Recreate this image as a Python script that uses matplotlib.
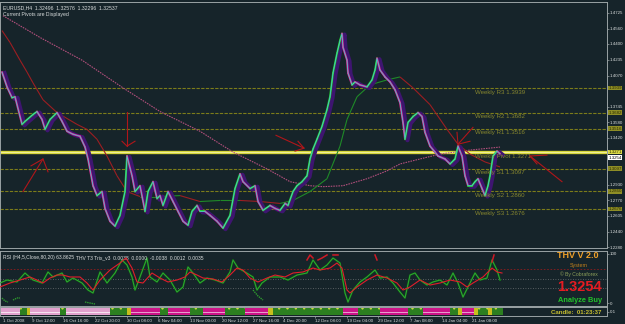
import matplotlib
matplotlib.use('Agg')
import matplotlib.pyplot as plt
import matplotlib.transforms as mtransforms
from matplotlib.collections import LineCollection
from matplotlib.patches import Rectangle
import numpy as np

plt.rcParams['font.family'] = ['Liberation Sans', 'DejaVu Sans']
plt.rcParams['hatch.linewidth'] = 0.5

# ---------------- data ----------------
price_x = [2, 7, 12, 15, 22, 25, 33, 37, 42, 45, 50, 57, 62, 67, 73, 80, 85, 88, 93, 97,
           102, 105, 110, 115, 120, 125, 127, 132, 135, 140, 145, 148, 153, 157, 160, 163,
           168, 173, 178, 183, 188, 192, 197, 200, 205, 210, 217, 223, 230, 235, 240, 243,
           250, 255, 258, 263, 270, 275, 280, 285, 288, 293, 297, 302, 307, 310, 313, 317,
           322, 327, 330, 333, 337, 340, 342, 343, 347, 348, 352, 355, 360, 367, 372, 375,
           377, 380, 385, 390, 395, 400, 403, 405, 408, 413, 418, 422, 425, 430, 435, 438,
           445, 450, 455, 458, 462, 465, 468, 472, 475, 478, 482, 485, 488, 490, 493, 497, 500]
price = [1.4106, 1.3951, 1.3838, 1.3848, 1.3560, 1.3591, 1.3663, 1.3694, 1.3611, 1.3508,
         1.3611, 1.3683, 1.3591, 1.3488, 1.3457, 1.3436, 1.3323, 1.3199, 1.2920, 1.2817,
         1.2859, 1.2683, 1.2549, 1.2498, 1.2611, 1.2859, 1.3230, 1.3024, 1.2859, 1.2920,
         1.2652, 1.2859, 1.2962, 1.2786, 1.2817, 1.2714, 1.2859, 1.2755, 1.2652, 1.2549,
         1.2508, 1.2652, 1.2714, 1.2652, 1.2652, 1.2611, 1.2549, 1.2477, 1.2611, 1.2890,
         1.3044, 1.2962, 1.2890, 1.2920, 1.2755, 1.2663, 1.2714, 1.2683, 1.2663, 1.2735,
         1.2714, 1.2859, 1.2920, 1.2962, 1.3024, 1.3199, 1.3302, 1.3405, 1.3539, 1.3714,
         1.3848, 1.4096, 1.4302, 1.4436, 1.4508, 1.4364, 1.4230, 1.4096, 1.3972, 1.4003,
         1.3972, 1.3951, 1.4024, 1.4127, 1.4250, 1.4127, 1.4055, 1.4003, 1.3921, 1.3787,
         1.3580, 1.3405, 1.3580, 1.3642, 1.3683, 1.3642, 1.3477, 1.3333, 1.3271, 1.3230,
         1.3199, 1.3147, 1.3199, 1.3333, 1.3230, 1.3024, 1.2920, 1.2920, 1.2962, 1.2993,
         1.2890, 1.2817, 1.2920, 1.3024, 1.3230, 1.3281, 1.3254]

ma_x = [2, 10, 20, 27, 33, 43, 57, 77, 87, 97, 107, 117, 127, 140, 160, 180, 200, 220,
        240, 260, 280, 293, 310, 327, 340, 347, 357, 370, 387, 400, 413, 430, 447, 458,
        470, 485, 500]
ma = [1.4539, 1.4415, 1.4230, 1.4106, 1.3993, 1.3817, 1.3683, 1.3560, 1.3508, 1.3405,
      1.3230, 1.3024, 1.2859, 1.2807, 1.2807, 1.2817, 1.2755, 1.2766, 1.2766, 1.2755,
      1.2735, 1.2766, 1.2859, 1.2993, 1.3333, 1.3611, 1.3848, 1.3972, 1.4024, 1.4055,
      1.3941, 1.3766, 1.3508, 1.3353, 1.3250, 1.3168, 1.3116]

ma200_x = [3, 40, 82, 123, 160, 200, 233, 267, 290, 310, 323, 343, 367, 387, 400, 420,
           440, 470, 500]
ma200 = [1.4694, 1.4467, 1.4230, 1.3941, 1.3694, 1.3488, 1.3271, 1.3096, 1.2962, 1.2920,
         1.2910, 1.2920, 1.2993, 1.3075, 1.3147, 1.3199, 1.3250, 1.3292, 1.3323]

pivot_names = ['Weekly R3', 'Weekly R2', 'Weekly R1', 'Weekly Pivot', 'Weekly S1',
               'Weekly S2', 'Weekly S3']
pivot_vals = [1.3939, 1.3682, 1.3516, 1.3271, 1.3097, 1.2860, 1.2676]

price_ticks = [1.4725, 1.4560, 1.4400, 1.4235, 1.4070, 1.3745, 1.3580, 1.3420,
               1.2930, 1.2770, 1.2605, 1.2440, 1.2280]
last_price = 1.3254

time_labels = ['1 Oct 2008', '9 Oct 12:00', '16 Oct 16:00', '22 Oct 20:00', '30 Oct 08:00',
               '6 Nov 04:00', '13 Nov 00:00', '20 Nov 12:00', '27 Nov 16:00', '4 Dec 20:00',
               '12 Dec 08:00', '19 Dec 04:00', '29 Dec 12:00', '7 Jan 08:00', '14 Jan 04:00',
               '21 Jan 08:00']
time_pos = [3, 32, 63, 95, 127, 158, 190, 222, 253, 283, 315, 347, 378, 410, 442, 472]

# hand-drawn arrows
arrow_tail_x = [23, 127, 276, 473, 562]
arrow_tail_p = [1.2859, 1.3694, 1.3446, 1.3529, 1.2962]
arrow_tip_x = [43, 127, 304, 458, 530]
arrow_tip_p = [1.3199, 1.3333, 1.3312, 1.3353, 1.3230]
arrow_h1_x = [31, 122, 298, 457, 547]
arrow_h1_p = [1.3127, 1.3384, 1.3384, 1.3477, 1.3240]
arrow_h2_x = [48, 135, 295, 470, 537]
arrow_h2_p = [1.3065, 1.3384, 1.3281, 1.3384, 1.3147]

rsi_fast_x = [0, 7, 17, 25, 33, 42, 48, 53, 62, 67, 73, 82, 88, 93, 100, 107, 115, 122, 127,
              132, 135, 140, 147, 150, 157, 163, 170, 177, 183, 188, 193, 200, 207, 215, 223,
              230, 233, 238, 245, 253, 257, 262, 270, 280, 288, 297, 307, 313, 320, 327, 333,
              340, 345, 348, 353, 360, 367, 375, 380, 387, 393, 400, 405, 410, 415, 420, 427,
              433, 440, 447, 453, 458, 463, 470, 475, 480, 487, 492, 497, 500]
rsi_fast = [40.8, 46.9, 42.9, 61.2, 46.9, 40.8, 63.3, 53.1, 61.2, 42.9, 51.0, 40.8, 26.5,
            20.4, 63.3, 40.8, 61.2, 87.8, 77.6, 53.1, 26.5, 53.1, 91.8, 53.1, 42.9, 61.2,
            46.9, 22.4, 32.7, 73.5, 61.2, 40.8, 51.0, 46.9, 40.8, 63.3, 87.8, 71.4, 63.3,
            53.1, 26.5, 40.8, 53.1, 53.1, 46.9, 57.1, 61.2, 87.8, 67.3, 77.6, 91.8, 81.6,
            20.4, 2.0, 26.5, 42.9, 53.1, 67.3, 51.0, 53.1, 40.8, 22.4, 10.2, 57.1, 61.2,
            46.9, 36.7, 42.9, 46.9, 36.7, 61.2, 40.8, 12.2, 40.8, 61.2, 46.9, 51.0, 87.8,
            67.3, 46.9]

rsi_slow_x = [0, 10, 20, 30, 37, 43, 50, 57, 63, 70, 80, 87, 93, 100, 110, 120, 126, 132,
              137, 143, 152, 160, 168, 177, 185, 190, 197, 203, 213, 222, 230, 237, 243, 250,
              258, 267, 275, 285, 293, 303, 313, 320, 330, 337, 342, 347, 350, 357, 367, 377,
              387, 397, 403, 410, 420, 430, 440, 450, 460, 467, 473, 483, 492, 497, 502]
rsi_slow = [32.7, 40.8, 46.9, 53.1, 46.9, 40.8, 51.0, 57.1, 57.1, 53.1, 53.1, 40.8, 26.5,
            46.9, 67.3, 81.6, 91.8, 71.4, 42.9, 40.8, 61.2, 51.0, 42.9, 46.9, 53.1, 63.3,
            57.1, 51.0, 49.0, 42.9, 57.1, 71.4, 67.3, 51.0, 42.9, 51.0, 57.1, 53.1, 61.2,
            63.3, 71.4, 67.3, 71.4, 81.6, 71.4, 26.5, 20.4, 32.7, 46.9, 57.1, 51.0, 40.8,
            26.5, 32.7, 46.9, 36.7, 40.8, 46.9, 42.9, 32.7, 40.8, 53.1, 71.4, 63.3, 61.2]

# overbought (red) and oversold (green) marker fragments
ob_x = [307, 310, 313, np.nan, 318, 322, 327, np.nan, 333, 338, np.nan, 375, 377, np.nan,
        492, 494]
ob_v = [87.8, 98.0, 91.8, np.nan, 87.8, 91.8, 98.0, np.nan, 98.0, 98.0, np.nan, 98.0, 87.8,
        np.nan, 83.7, 98.0]
os_x = [2, 5, 8, np.nan, 13, 17, 20, np.nan, 85, 90, 95, np.nan, 253, 258, 263]
os_v = [10.2, 4.1, 2.0, np.nan, 6.1, 10.2, 10.2, np.nan, 2.0, 0.0, -2.0, np.nan, 26.5,
        14.3, 6.1]

strip_start = [0, 20, 27, 30, 60, 66, 110, 127, 131, 160, 168, 190, 203, 225, 245, 268, 273,
               343, 358, 380, 408, 423, 450, 458, 462, 474, 478, 488, 492]
strip_end = [20, 27, 30, 60, 66, 110, 127, 131, 160, 168, 190, 203, 225, 245, 268, 273, 343,
             358, 380, 408, 423, 450, 458, 462, 474, 478, 488, 492, 503]
strip_state = ['weak', 'buy', 'flat', 'weak', 'buy', 'weak', 'buy', 'flat', 'sell', 'buy',
               'sell', 'buy', 'sell', 'buy', 'sell', 'flat', 'buy', 'sell', 'buy', 'sell',
               'buy', 'sell', 'buy', 'flat', 'sell', 'flat', 'buy', 'flat', 'buy']

# ---------------- style ----------------
BG = '#16242A'
FRAME = '#9AA2A4'
OLIVE = '#7C7C1A'
TXT = '#D8DCDC'
W, H = 625, 324
LBL = 3.2

fig = plt.figure(figsize=(W / 100, H / 100), dpi=100, facecolor=BG)


def px_axes(x0, y0, x1, y1):
    a = fig.add_axes([x0 / W, 1 - y1 / H, (x1 - x0) / W, (y1 - y0) / H])
    a.set_facecolor(BG)
    for s in a.spines.values():
        s.set_color(FRAME)
        s.set_linewidth(0.7)
    a.set_xlim(0, 607)
    return a


ax = px_axes(0, 2, 607, 248)
ax_r = px_axes(0, 251, 607, 306)
ax_s = px_axes(0, 307, 607, 316)

ax.set_ylim(1.2270, 1.4837)
ax.yaxis.tick_right()
ax.set_yticks(price_ticks)
ax.set_yticklabels([f'{v:.4f}' for v in price_ticks])
ax.tick_params(axis='y', colors=FRAME, labelcolor=TXT, labelsize=LBL, length=1.5,
               width=0.5, pad=0.6)
ax.set_xticks([])

# pivot lines
for name, v in zip(pivot_names, pivot_vals):
    if name == 'Weekly Pivot':
        ax.axhline(v, color='#D6D63A', lw=2.4, zorder=2)
        ax.axhline(v, color='#F2F2A8', lw=0.6, zorder=2.1)
    else:
        ax.axhline(v, color=OLIVE, lw=0.8, dashes=(3, 1.2), zorder=1)
    ax.annotate(f'{name} {v:.4f}', xy=(475, v), xytext=(0, -1.2), textcoords='offset points',
                ha='left', va='top', fontsize=4.4, color='#87872E', zorder=6)

# MA200 dotted pink
ax.plot(ma200_x, ma200, color='#B24F7C', lw=0.8, dashes=(1.4, 0.9), zorder=3)


def dir_segments(xs, ys, up, down):
    pts = np.column_stack([xs, ys])
    segs = np.stack([pts[:-1], pts[1:]], axis=1)
    cols = [up if b >= a else down for a, b in zip(ys[:-1], ys[1:])]
    return segs, cols


# color-changing MA
segs, cols = dir_segments(ma_x, ma, '#1F8A28', '#9C1E22')
ax.add_collection(LineCollection(segs, colors=cols, linewidths=0.8, zorder=3))

# purple shadow band
shift = mtransforms.ScaledTranslation(2.5 / 100, -1 / 100, fig.dpi_scale_trans)
ax.plot(price_x, price, color='#3E1570', lw=3.0, transform=ax.transData + shift,
        zorder=4, solid_joinstyle='round')
# price up/down colored
segs, cols = dir_segments(price_x, price, '#22CC2A', '#E0208E')
ax.add_collection(LineCollection(segs, colors=cols, linewidths=1.4, zorder=5,
                                 capstyle='round'))
ax.plot(price_x, price, color='#4FC4CC', lw=0.6, zorder=6)

for i in range(len(arrow_tail_x)):
    kw = dict(color='#B0161A', lw=0.8, zorder=7)
    ax.plot([arrow_tail_x[i], arrow_tip_x[i]], [arrow_tail_p[i], arrow_tip_p[i]], **kw)
    ax.plot([arrow_h1_x[i], arrow_tip_x[i], arrow_h2_x[i]],
            [arrow_h1_p[i], arrow_tip_p[i], arrow_h2_p[i]], **kw)

# pivot boxes on the price scale
bl = mtransforms.blended_transform_factory(ax.transAxes, ax.transData)
for name, v in zip(pivot_names, pivot_vals):
    fc = '#DADA48' if name == 'Weekly Pivot' else '#8E8E26'
    ax.text(1.002, v, f'{v:.4f}', transform=bl, fontsize=LBL, color='#2C2C00',
            ha='left', va='center', clip_on=False, zorder=20,
            bbox=dict(boxstyle='square,pad=0.08', fc=fc, ec='none'))
ax.text(1.002, last_price - 0.0042, f'{last_price:.4f}', transform=bl, fontsize=LBL,
        color='#000000', ha='left', va='center', clip_on=False, zorder=21,
        bbox=dict(boxstyle='square,pad=0.08', fc='#FFFFFF', ec='none'))

ax.text(0.005, 0.987, 'EURUSD,H4  1.32496  1.32576  1.32296  1.32537', transform=ax.transAxes,
        fontsize=3.7, color=TXT, ha='left', va='top')
ax.text(0.005, 0.958, 'Current Pivots are Displayed', transform=ax.transAxes,
        fontsize=3.7, color=TXT, ha='left', va='top')

# ---------------- RSI panel ----------------
ax_r.set_ylim(-6.1, 106.1)
ax_r.set_xticks([])
ax_r.yaxis.tick_right()
ax_r.set_yticks([100, 0])
ax_r.set_yticklabels(['100', '0'])
ax_r.tick_params(axis='y', colors=FRAME, labelcolor=TXT, labelsize=LBL, length=1.5,
                 width=0.5, pad=0.6)
ax_r.axhline(70, color='#8E1C1C', lw=0.6, dashes=(2, 2))
ax_r.axhline(50, color='#6C7274', lw=0.6, dashes=(1, 2))
ax_r.axhline(30, color='#6C7274', lw=0.6, dashes=(1, 2))
ax_r.plot(rsi_fast_x, rsi_fast, color='#0F5A14', lw=1.4, zorder=2)
ax_r.plot(rsi_fast_x, rsi_fast, color='#2FA834', lw=0.7, zorder=3)
ax_r.plot(rsi_slow_x, rsi_slow, color='#E01E2A', lw=0.8, zorder=4)
ax_r.plot(ob_x, ob_v, color='#D01A26', lw=1.1, zorder=4)
ax_r.plot(os_x, os_v, color='#2E9A2E', lw=1.0, dashes=(1, 0.6), zorder=3)
ax_r.text(0.005, 0.93, 'RSI (H4,5,Close,80,20) 63.8625', transform=ax_r.transAxes,
          fontsize=3.6, color=TXT, ha='left', va='top')
ax_r.text(0.125, 0.93, 'THV T3 Trix_v3  0.0038  0.0000  -0.0038  0.0012  0.0035',
          transform=ax_r.transAxes, fontsize=3.6, color=TXT, ha='left', va='top')

# ---------------- signal strip ----------------
ax_s.set_ylim(0, 1)
strip_fc = {'sell': '#CC1488', 'buy': '#2C7F20', 'flat': '#C8BE1E', 'weak': '#E2A2CE'}
strip_hatch = {'sell': '--', 'buy': '..', 'flat': None, 'weak': '--'}
strip_hc = {'sell': '#F4D8EC', 'buy': '#C8D840', 'flat': '#C8BE1E', 'weak': '#FFFFFF'}
for x0, x1, st in zip(strip_start, strip_end, strip_state):
    ax_s.add_patch(Rectangle((x0, 0.1), x1 - x0, 0.8, facecolor=strip_fc[st],
                             edgecolor=strip_hc[st], hatch=strip_hatch[st], lw=0))
ax_s.yaxis.tick_right()
ax_s.set_yticks([0.5])
ax_s.set_yticklabels(['0.1'])
ax_s.tick_params(axis='y', colors=FRAME, labelcolor=TXT, labelsize=LBL, length=1.5,
                 width=0.5, pad=0.6)
ax_s.set_xticks(time_pos)
ax_s.set_xticklabels(time_labels, ha='left')
ax_s.tick_params(axis='x', colors=FRAME, labelcolor=TXT, labelsize=3.2, length=1.5,
                 width=0.5, pad=0.5)

# ---------------- right-side info text ----------------
def ftext(x, y, s, **kw):
    fig.text(x / W, 1 - y / H, s, **kw)


ftext(578, 256, 'THV V 2.0', fontsize=6.5, color='#F0A028', fontweight='bold',
      ha='center', va='center')
ftext(579, 265, 'System', fontsize=3.9, color='#C0801C', ha='center', va='center')
ftext(579, 274, '© By Cobraforex', fontsize=3.6, color='#8EA05A', ha='center', va='center')
ftext(580, 287, '1.3254', fontsize=10.5, color='#E41C22', fontweight='bold',
      ha='center', va='center')
ftext(580, 301, 'Analyze Buy', fontsize=5.3, color='#22C22A', fontweight='bold',
      ha='center', va='center')
ftext(576, 313, 'Candle:  01:23:37', fontsize=4.4, color='#C8C030', fontweight='bold',
      ha='center', va='center')

fig.savefig('out.png', dpi=100, facecolor=BG)
